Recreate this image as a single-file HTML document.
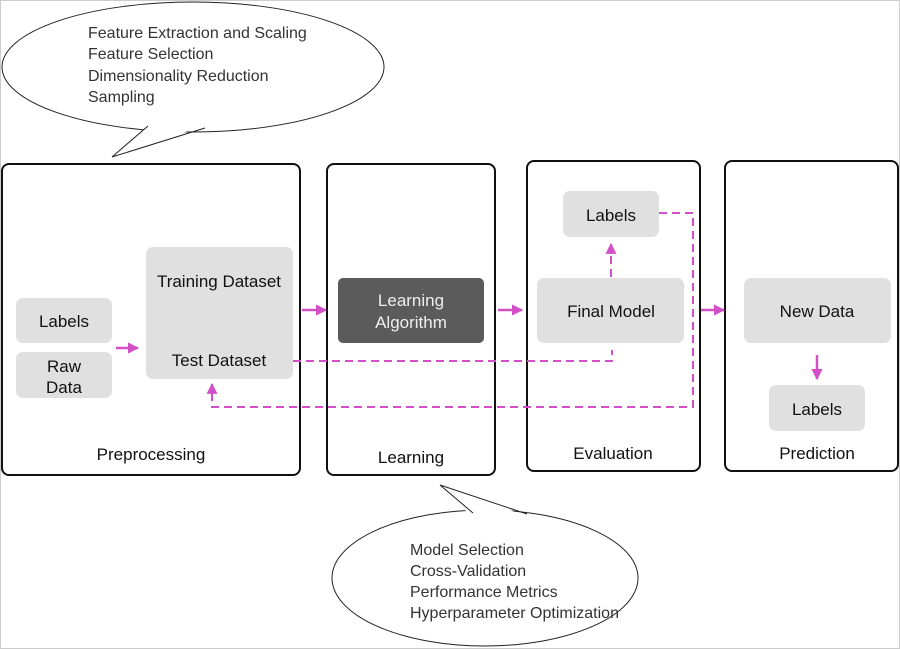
<!DOCTYPE html>
<html><head><style>body{margin:0;background:#fff}svg{display:block}</style></head><body>
<svg width="900" height="649" viewBox="0 0 900 649" xmlns="http://www.w3.org/2000/svg" font-family="'Liberation Sans', sans-serif">
<defs>
<marker id="a" viewBox="0 0 10 10" refX="9" refY="5" markerWidth="4.5" markerHeight="4.5" orient="auto"><path d="M0,0L10,5L0,10z" fill="#d24fc8"/></marker>
<marker id="b" viewBox="0 0 10 10" refX="9" refY="5" markerWidth="5.5" markerHeight="5.5" orient="auto"><path d="M0,0L10,5L0,10z" fill="#d24fc8"/></marker>
</defs>
<rect x="0.5" y="0.5" width="899" height="648" fill="#fff" stroke="#ccc"/>
<!-- top bubble -->
<ellipse cx="193" cy="67" rx="191" ry="65" fill="#fff" stroke="#222"/>
<path d="M150,124 L112,157 L203,126" fill="#fff" stroke="none"/>
<path d="M148,126 L112,157 L205,128" fill="none" stroke="#222"/>
<g font-size="16" fill="#333">
<text x="88" y="38">Feature Extraction and Scaling</text>
<text x="88" y="59">Feature Selection</text>
<text x="88" y="81">Dimensionality Reduction</text>
<text x="88" y="102">Sampling</text>
</g>
<!-- bottom bubble -->
<ellipse cx="485" cy="578" rx="153" ry="68" fill="#fff" stroke="#222"/>
<path d="M471,516 L440,485 L529,517" fill="#fff" stroke="none"/>
<path d="M473,513 L440,485 L527,514" fill="none" stroke="#222"/>
<g font-size="16" fill="#333">
<text x="410" y="555">Model Selection</text>
<text x="410" y="576">Cross-Validation</text>
<text x="410" y="597">Performance Metrics</text>
<text x="410" y="618">Hyperparameter Optimization</text>
</g>
<!-- panels -->
<g fill="none" stroke="#111" stroke-width="2">
<rect x="2" y="164" width="298" height="311" rx="7"/>
<rect x="327" y="164" width="168" height="311" rx="7"/>
<rect x="527" y="161" width="173" height="310" rx="7"/>
<rect x="725" y="161" width="173" height="310" rx="7"/>
</g>
<!-- boxes -->
<g fill="#e0e0e0">
<rect x="16" y="298" width="96" height="45" rx="7"/>
<rect x="16" y="352" width="96" height="46" rx="7"/>
<rect x="146" y="247" width="147" height="132" rx="7"/>
<rect x="537" y="278" width="147" height="65" rx="7"/>
<rect x="563" y="191" width="96" height="46" rx="7"/>
<rect x="744" y="278" width="147" height="65" rx="7"/>
<rect x="769" y="385" width="96" height="46" rx="7"/>
</g>
<rect x="338" y="278" width="146" height="65" rx="5" fill="#5b5b5b"/>
<g font-size="17" fill="#111" text-anchor="middle">
<text x="64" y="327">Labels</text>
<text x="64" y="372">Raw</text>
<text x="64" y="393">Data</text>
<text x="219" y="287">Training Dataset</text>
<text x="219" y="366">Test Dataset</text>
<text x="411" y="306" fill="#eee">Learning</text>
<text x="411" y="328" fill="#eee">Algorithm</text>
<text x="611" y="317">Final Model</text>
<text x="611" y="221">Labels</text>
<text x="817" y="317">New Data</text>
<text x="817" y="415">Labels</text>
<text x="151" y="460">Preprocessing</text>
<text x="411" y="463">Learning</text>
<text x="613" y="459">Evaluation</text>
<text x="817" y="459">Prediction</text>
</g>
<!-- arrows -->
<g stroke="#d24fc8" stroke-width="2.5" fill="none">
<line x1="116" y1="348" x2="138" y2="348" marker-end="url(#a)"/>
<line x1="302" y1="310" x2="326" y2="310" marker-end="url(#a)"/>
<line x1="498" y1="310" x2="522" y2="310" marker-end="url(#a)"/>
<line x1="701" y1="310" x2="724" y2="310" marker-end="url(#a)"/>
<line x1="817" y1="355" x2="817" y2="379" marker-end="url(#a)"/>
</g>
<g stroke="#d24fc8" stroke-width="2" fill="none" stroke-dasharray="8,5">
<line x1="611" y1="277" x2="611" y2="244" marker-end="url(#b)"/>
<polyline points="293,361 612,361 612,350"/>
<polyline points="659,213 693,213 693,407 212,407 212,384" marker-end="url(#b)"/>
</g>
</svg>
</body></html>
